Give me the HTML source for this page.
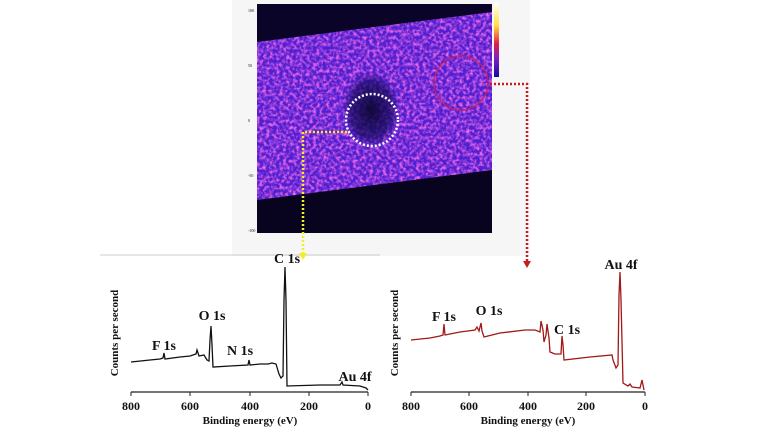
<!DOCTYPE html>
<html><head><meta charset="utf-8"><style>
html,body{margin:0;padding:0;background:#fff;}
svg{display:block;}
text{font-family:"Liberation Serif",serif;font-weight:bold;fill:#111;}
</style></head><body>
<svg width="757" height="433" viewBox="0 0 757 433" xmlns="http://www.w3.org/2000/svg">
<defs>
<filter id="noise" x="0" y="0" width="100%" height="100%">
<feTurbulence type="fractalNoise" baseFrequency="0.3" numOctaves="2" seed="3" result="t"/>
<feColorMatrix in="t" type="matrix" values="0 0 0 0 0.95  0 0 0 0 0.15  0 0 0 0 0.85  0 0 0 2.4 -0.95" result="m"/>
<feComposite in="m" in2="SourceGraphic" operator="in"/>
</filter>
<radialGradient id="blob"><stop offset="0" stop-color="#0a0530" stop-opacity="0.95"/><stop offset="0.7" stop-color="#140a60" stop-opacity="0.7"/><stop offset="1" stop-color="#2a10a0" stop-opacity="0"/></radialGradient>
<linearGradient id="cb" x1="0" y1="0" x2="0" y2="1"><stop offset="0" stop-color="#fff"/><stop offset="0.3" stop-color="#ffe040"/><stop offset="0.55" stop-color="#e02040"/><stop offset="0.75" stop-color="#8020c0"/><stop offset="1" stop-color="#1010a0"/></linearGradient>
</defs>
<rect x="232" y="0" width="298" height="256" fill="#f6f6f6"/>
<line x1="100" y1="255" x2="380" y2="255" stroke="#ccc" stroke-width="1"/>
<rect x="257" y="4" width="235" height="229" fill="#5020d0"/>
<rect x="257" y="4" width="235" height="229" fill="#c030e0" filter="url(#noise)"/>
<ellipse cx="371" cy="110" rx="30" ry="40" fill="url(#blob)"/>
<polygon points="257,4 492,4 492,12 257,42" fill="#0a0528"/>
<polygon points="257,200 492,170 492,233 257,233" fill="#080420"/>
<circle cx="372" cy="120" r="26" fill="none" stroke="#fff" stroke-width="2.5" stroke-dasharray="2,2"/>
<circle cx="461" cy="83" r="27" fill="none" stroke="#d02050" stroke-width="1.5" stroke-opacity="0.8"/>
<rect x="494" y="3" width="5" height="74" fill="url(#cb)"/>
<g fill="#555">
<text x="248" y="12" style="font-weight:normal" font-size="4">100</text>
<text x="248" y="67" style="font-weight:normal" font-size="4">50</text>
<text x="248" y="122" style="font-weight:normal" font-size="4">0</text>
<text x="248" y="177" style="font-weight:normal" font-size="4">-50</text>
<text x="248" y="232" style="font-weight:normal" font-size="4">-100</text>
</g>
<polyline points="347,132 303,132 303,254" fill="none" stroke="#f0f020" stroke-width="2.5" stroke-dasharray="2,2"/>
<polygon points="299,253 307,253 303,260" fill="#f0f020"/>
<polyline points="490,84 527,84 527,262" fill="none" stroke="#c02020" stroke-width="2.5" stroke-dasharray="2,2"/>
<polygon points="523,261 531,261 527,268" fill="#c02020"/>

<line x1="131" y1="392" x2="368" y2="392" stroke="#222" stroke-width="1.2"/>
<g stroke="#222" stroke-width="1">
<line x1="131" y1="392" x2="131" y2="396"/><line x1="190" y1="392" x2="190" y2="396"/><line x1="250" y1="392" x2="250" y2="396"/><line x1="309" y1="392" x2="309" y2="396"/><line x1="368" y1="392" x2="368" y2="396"/>
<line x1="411" y1="392" x2="411" y2="396"/><line x1="469" y1="392" x2="469" y2="396"/><line x1="528" y1="392" x2="528" y2="396"/><line x1="586" y1="392" x2="586" y2="396"/><line x1="645" y1="392" x2="645" y2="396"/>
</g>
<polyline fill="none" stroke="#111" stroke-width="1.3" points="131,362 150,360 160,359 163,358 164,353 165,359 180,357 190,356 196,354 197,350 199,356 204,355 207,360 209,361 210,340 211,326 212,345 213,367 230,366 248,365 249,360 250,365 260,364 268,364 272,363 276,364 279,374 281,378 283,376 284,300 285,267 286,300 287,386 320,385 340,385 342,382 343,385 360,386 366,388 368,390"/>
<g font-size="12" text-anchor="middle">
<text x="131" y="410">800</text><text x="190" y="410">600</text><text x="250" y="410">400</text><text x="309" y="410">200</text><text x="368" y="410">0</text>
<text x="411" y="410">800</text><text x="469" y="410">600</text><text x="528" y="410">400</text><text x="586" y="410">200</text><text x="645" y="410">0</text>
</g>
<g font-size="11" text-anchor="middle">
<text x="250" y="424">Binding energy (eV)</text>
<text x="528" y="424">Binding energy (eV)</text>
<text transform="translate(118,333) rotate(-90)">Counts per second</text>
<text transform="translate(398,333) rotate(-90)">Counts per second</text>
</g>
<g font-size="14" text-anchor="middle">
<text x="287" y="263">C 1s</text><text x="212" y="320">O 1s</text><text x="164" y="350">F 1s</text><text x="240" y="355">N 1s</text><text x="355" y="381">Au 4f</text>
</g>
<line x1="411" y1="392" x2="645" y2="392" stroke="#222" stroke-width="1.2"/>
<polyline fill="none" stroke="#a01818" stroke-width="1.3" points="411,340 430,338 440,336 443,335 444,324 445,335 460,332 475,330 477,327 479,331 481,323 482,331 484,337 500,333 525,330 535,330 540,332 541,321 543,330 544,342 546,335 547,324 549,338 550,352 555,354 561,354 562,336 563,345 564,360 590,357 612,355 613,360 616,368 618,365 619,295 620,272 621,300 623,383 628,386 630,384 632,387 640,388 642,380 643,385 644,390"/>
<g font-size="14" text-anchor="middle">
<text x="444" y="321">F 1s</text><text x="489" y="315">O 1s</text><text x="567" y="334">C 1s</text><text x="621" y="269">Au 4f</text>
</g>
</svg>
</body></html>
